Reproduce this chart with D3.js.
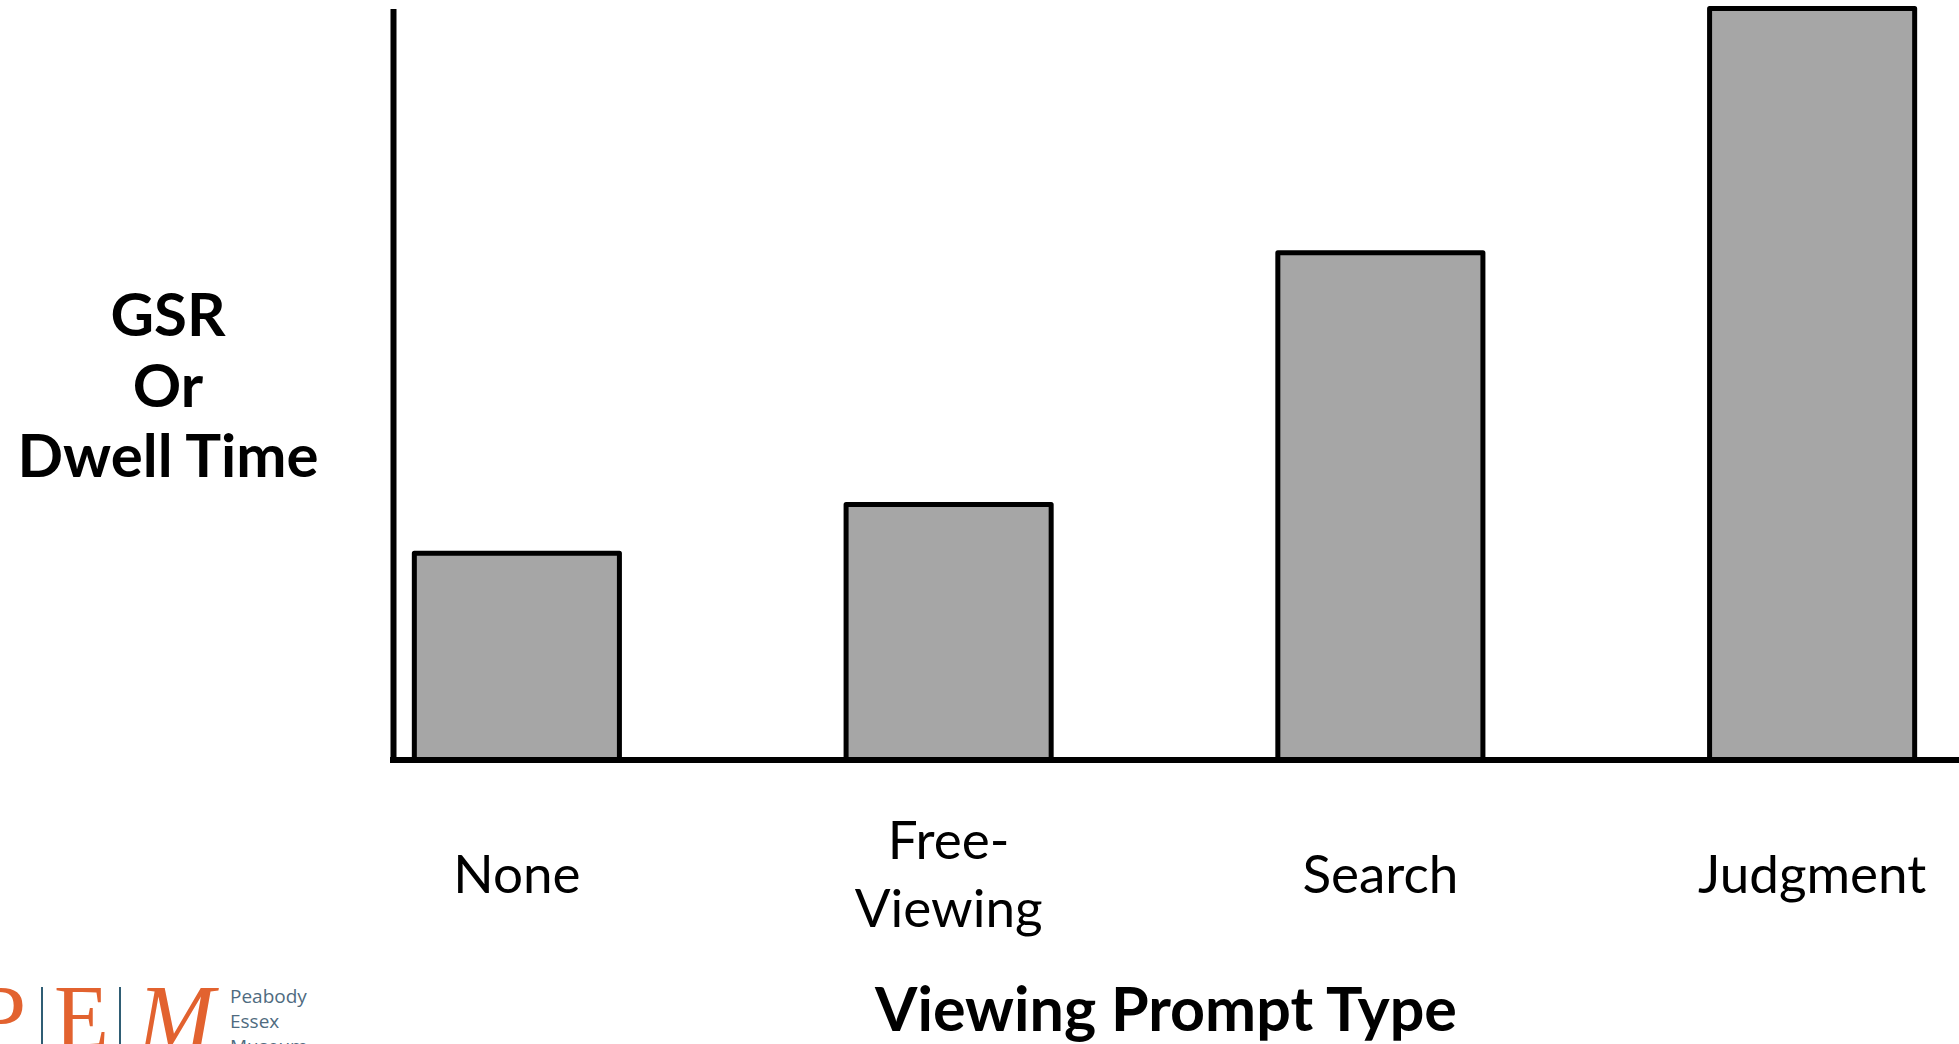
<!DOCTYPE html>
<html>
<head>
<meta charset="utf-8">
<script src="https://cdn.jsdelivr.net/npm/d3@7"></script>
<style>
  html, body { margin: 0; padding: 0; background: #ffffff; }
  svg { display: block; }
</style>
</head>
<body>
<svg id="chart" width="1959" height="1044"></svg>
<script>
// Viewing prompt categories and relative response level (GSR / dwell time)
const categories = ["None", "Free-\nViewing", "Search", "Judgment"];
const values = [2.75, 3.4, 6.75, 10];
const yDomain = [0, 10];
const yTitleLines = ["GSR", "Or", "Dwell Time"];
const xTitle = "Viewing Prompt Type";

const W = 1959, H = 1044;
const svg = d3.select("#chart");

const baseY = 760, topY = 8.5, axisX = 393;

const x = d3.scaleBand()
  .domain(categories)
  .range([301, 2028])
  .paddingInner(0.525)
  .paddingOuter(0.2625);

const y = d3.scaleLinear().domain(yDomain).range([baseY, topY]);

// bars
svg.append("g")
  .selectAll("rect")
  .data(values)
  .join("rect")
  .attr("x", (d, i) => x(categories[i]))
  .attr("y", d => y(d))
  .attr("width", x.bandwidth())
  .attr("height", d => y(0) - y(d))
  .attr("fill", "#a6a6a6")
  .attr("stroke", "#000")
  .attr("stroke-width", 5)
  .attr("stroke-linejoin", "round");

// y axis: a plain vertical rule without ticks
const yAxis = svg.append("g")
  .attr("transform", `translate(${axisX},0)`)
  .call(d3.axisLeft(y).tickValues([]).tickSizeOuter(0));
yAxis.select(".domain").attr("stroke", "#000").attr("stroke-width", 6);

// x axis baseline, running from the y axis to the right edge
svg.append("line")
  .attr("x1", axisX - 3).attr("x2", W)
  .attr("y1", baseY).attr("y2", baseY)
  .attr("stroke", "#000").attr("stroke-width", 6);

// category labels
const labelFont = "Lato, 'Open Sans', sans-serif";
const xAxis = svg.append("g")
  .attr("transform", `translate(0,${baseY})`)
  .call(d3.axisBottom(x).tickSize(0));
xAxis.select(".domain").remove();
xAxis.selectAll(".tick text").each(function(d) {
  const t = d3.select(this);
  const lines = d.split("\n");
  t.text(null)
    .attr("y", 0).attr("dy", null)
    .attr("fill", "#000")
    .style("font-family", labelFont)
    .style("font-size", "53px")
    .attr("text-anchor", "middle");
  const lh = 68;
  const first = 133 - (lines.length - 1) * lh / 2;
  lines.forEach((ln, k) => {
    t.append("tspan").attr("x", 0).attr("y", first + k * lh).text(ln);
  });
});

// x title
svg.append("text")
  .attr("x", 1166).attr("y", 1031)
  .attr("text-anchor", "middle")
  .style("font-family", labelFont)
  .style("font-weight", 700)
  .style("font-size", "61px")
  .text(xTitle);

// y title, three centred lines
const yt = svg.append("text")
  .attr("text-anchor", "middle")
  .style("font-family", labelFont)
  .style("font-weight", 700)
  .style("font-size", "60px");
yTitleLines.forEach((ln, k) => {
  yt.append("tspan").attr("x", 168).attr("y", 336 + k * 70.5).text(ln);
});

// museum logo in the lower-left corner
const logo = svg.append("g");
const orange = "#e2622f", rule = "#2f5d74", grey = "#4f6b80";
const serif = "'Liberation Serif', 'DejaVu Serif', serif";
logo.append("text").attr("x", -24).attr("y", 1048)
  .style("font-family", serif).style("font-size", "90px").attr("fill", orange).text("P");
logo.append("line").attr("x1", 42).attr("x2", 42).attr("y1", 987).attr("y2", H)
  .attr("stroke", rule).attr("stroke-width", 2);
logo.append("text").attr("x", 54).attr("y", 1048)
  .style("font-family", serif).style("font-size", "90px").attr("fill", orange).text("E");
logo.append("line").attr("x1", 120).attr("x2", 120).attr("y1", 987).attr("y2", H)
  .attr("stroke", rule).attr("stroke-width", 2);
logo.append("text").attr("x", 138).attr("y", 1048)
  .style("font-family", serif).style("font-size", "92px").style("font-style", "italic")
  .attr("fill", orange).text("M");
["Peabody", "Essex", "Museum"].forEach((w, k) => {
  logo.append("text").attr("x", 230).attr("y", 1003 + k * 25)
    .style("font-family", "'Open Sans', sans-serif").style("font-size", "19px")
    .attr("fill", grey).text(w);
});
</script>
</body>
</html>
